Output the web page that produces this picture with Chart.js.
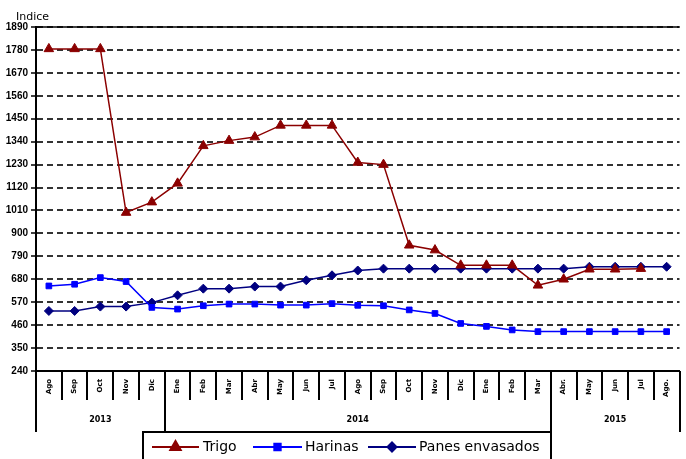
<!DOCTYPE html>
<html>
<head>
<meta charset="utf-8">
<script src="https://cdn.jsdelivr.net/npm/chart.js@4"></script>
<style>
  html,body{margin:0;padding:0;background:#fff;}
  #wrap{width:686px;height:459px;position:relative;}
</style>
</head>
<body>
<div id="wrap"><canvas id="c" width="686" height="459"></canvas></div>
<script>
const months = ['Ago','Sep','Oct','Nov','Dic','Ene','Feb','Mar','Abr','May','Jun','Jul','Ago','Sep','Oct','Nov','Dic','Ene','Feb','Mar','Abr.','May','Jun','Jul','Ago.'];
const years = ['2013','2014','2015'];
const yearStarts = [0,5,20,25];
const trigo = [1785,1785,1785,1000,1050,1140,1320,1345,1362,1418,1418,1418,1240,1230,843,820,747,747,747,651,680,728,728,731,null];
const harinas = [648,656,688,669,545,537,553,561,561,556,556,563,555,553,533,516,468,454,437,429,429,429,429,429,429];
const panes = [528,528,549,549,568,603,635,635,645,645,675,699,722,731,731,731,731,731,731,731,731,740,740,740,740];
const yTicks = {min:240, max:1890, step:110};
const seriesNames = ['Trigo','Harinas','Panes envasados'];
const yTitle = 'Indice';

const cTrigo = '#8B0000', cHar = '#0000FF', cPan = '#000080';

const extras = {
  id:'extras',
  afterDraw(chart){
    const ctx = chart.ctx, x = chart.scales.x, y = chart.scales.y, ca = chart.chartArea;
    const half = (x.getPixelForValue(1) - x.getPixelForValue(0))/2;
    const edge = i => i < months.length ? x.getPixelForValue(i) - half : x.getPixelForValue(months.length-1) + half;
    ctx.save();
    // top solid line
    ctx.strokeStyle = '#000'; ctx.lineWidth = 1.5;
    ctx.beginPath(); ctx.moveTo(ca.left, y.getPixelForValue(yTicks.max)); ctx.lineTo(ca.right, y.getPixelForValue(yTicks.max)); ctx.stroke();
    // category separators
    ctx.lineWidth = 2;
    for (let i=0;i<=months.length;i++){
      const px = Math.round(edge(i));
      const isYear = yearStarts.includes(i);
      ctx.beginPath(); ctx.moveTo(px, ca.bottom); ctx.lineTo(px, isYear ? 432 : 400); ctx.stroke();
    }
    // year labels
    ctx.fillStyle = '#000';
    ctx.font = 'bold 8px "DejaVu Sans"';
    ctx.textAlign = 'center'; ctx.textBaseline = 'middle';
    for (let k=0;k<years.length;k++){
      const a = edge(yearStarts[k]), b = edge(yearStarts[k+1]);
      ctx.fillText(years[k], (a+b)/2, 420);
    }
    // y title
    ctx.font = '11px "DejaVu Sans"';
    ctx.textAlign = 'left'; ctx.textBaseline = 'alphabetic';
    ctx.fillText(yTitle, 16, 20);
    // legend box
    const lx = 143, lr = Math.round(edge(20));
    ctx.lineWidth = 2; ctx.strokeStyle = '#000';
    ctx.strokeRect(lx, 432, lr - lx, 40);
    const items = [
      {name:seriesNames[0], color:cTrigo, style:'triangle', x0:152, x1:199, tx:203},
      {name:seriesNames[1], color:cHar, style:'rect', x0:253, x1:302, tx:305},
      {name:seriesNames[2], color:cPan, style:'rectRot', x0:368, x1:416, tx:419}
    ];
    const ly = 447;
    ctx.font = '14px "DejaVu Sans"'; ctx.textBaseline = 'middle';
    for (const it of items){
      ctx.strokeStyle = it.color; ctx.lineWidth = 2;
      ctx.beginPath(); ctx.moveTo(it.x0, ly); ctx.lineTo(it.x1, ly); ctx.stroke();
      const cx = (it.x0+it.x1)/2;
      ctx.fillStyle = it.color;
      Chart.helpers.drawPoint(ctx, {pointStyle: it.style, radius: it.style==='triangle'?6:4.5, borderWidth:1, rotation:0}, cx, ly);
      ctx.fill();
      ctx.fillStyle = '#000';
      ctx.fillText(it.name, it.tx, ly);
    }
    ctx.restore();
  }
};

new Chart(document.getElementById('c'), {
  type:'line',
  data:{
    labels: months,
    datasets:[
      {label:seriesNames[0], data:trigo, borderColor:cTrigo, backgroundColor:cTrigo, borderWidth:1.5, pointStyle:'triangle', pointRadius:5.5, pointBorderWidth:1, tension:0},
      {label:seriesNames[1], data:harinas, borderColor:cHar, backgroundColor:cHar, borderWidth:1.5, pointStyle:'rect', pointRadius:4, pointBorderWidth:1, tension:0},
      {label:seriesNames[2], data:panes, borderColor:cPan, backgroundColor:cPan, borderWidth:1.5, pointStyle:'rectRot', pointRadius:4.5, pointBorderWidth:1, tension:0}
    ]
  },
  options:{
    responsive:false, animation:false,
    layout:{padding:{top:27, right:6, left:0, bottom:0}},
    plugins:{legend:{display:false}, tooltip:{enabled:false}},
    scales:{
      x:{
        offset:true,
        grid:{display:false, drawTicks:false},
        border:{display:true, color:'#000', width:2},
        ticks:{autoSkip:false, minRotation:90, maxRotation:90, padding:8, color:'#000', font:{family:'DejaVu Sans', size:7, weight:'bold'}},
        afterFit(s){ s.height = 88; }
      },
      y:{
        min:yTicks.min, max:yTicks.max,
        grid:{color:'#333', lineWidth:2, tickColor:'#000', tickLength:5, tickWidth:1.5},
        border:{display:true, color:'#000', width:2, dash:[6,4]},
        ticks:{stepSize:yTicks.step, padding:3, color:'#000', font:{family:'Liberation Sans', size:10, weight:'bold'}, callback:v => String(v)},
        afterFit(s){ s.width = 36; }
      }
    }
  },
  plugins:[extras]
});
</script>
</body>
</html>
